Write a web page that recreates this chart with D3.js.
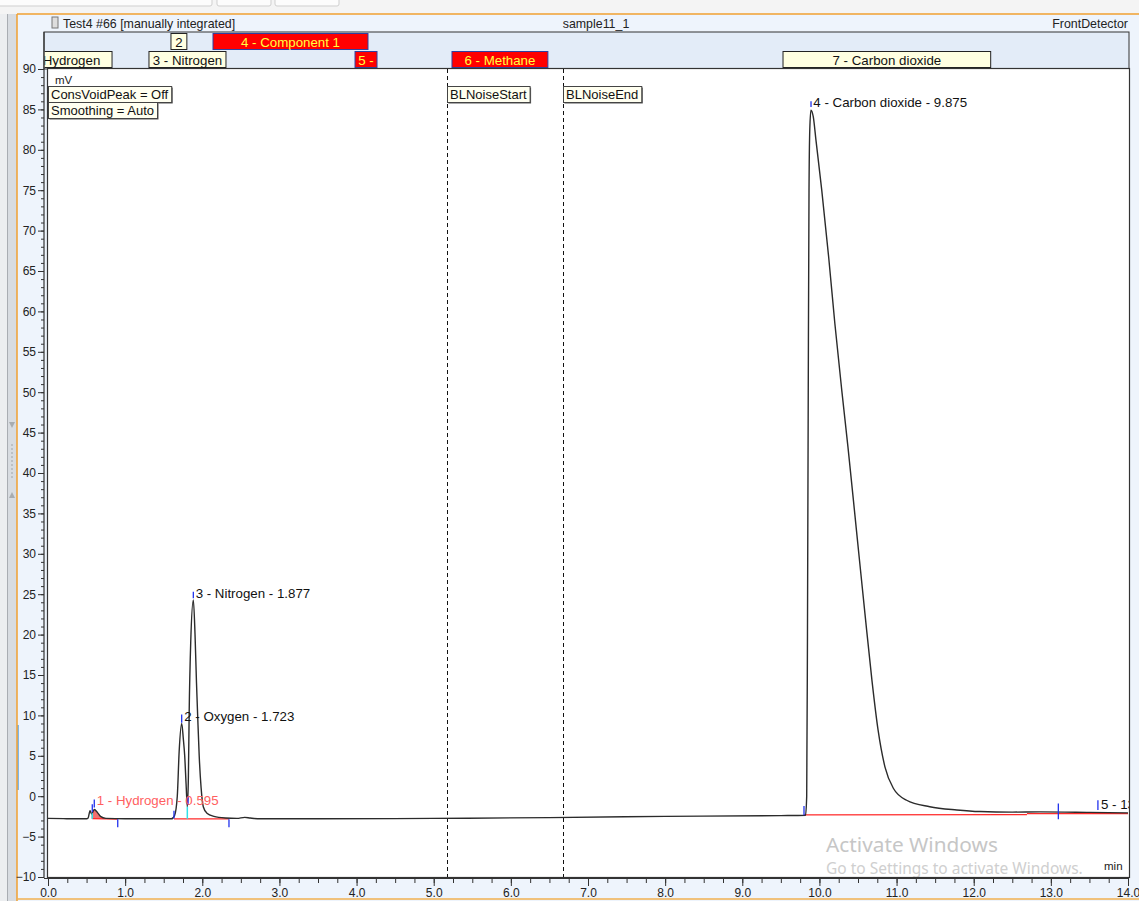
<!DOCTYPE html>
<html lang="en">
<head>
  <meta charset="utf-8">
  <title>Test4 #66 - sample11_1</title>
  <script src="https://cdn.jsdelivr.net/npm/d3@7"></script>
  <style>
    body { margin: 0; background: #fff; }
    svg { display: block; font-family: "Liberation Sans", Arial, sans-serif; }
    .axis text { font-size: 12px; fill: #222; }
    .axis line { stroke: #333; }
    .axis .domain { display: none; }
    .box text { font-size: 13.3px; }
  </style>
</head>
<body>
  <div id="chart"></div>
  <script>
    // chromatogram trace (min / mV)
    var times = [0.00, 0.20, 0.40, 0.50, 0.52, 0.545, 0.565, 0.600, 0.640, 0.680, 0.750, 1.00, 1.40, 1.60,
      1.640, 1.676, 1.700, 1.733, 1.755, 1.772, 1.790, 1.806, 1.820, 1.830, 1.850, 1.884, 1.906, 1.925,
      1.940, 1.960, 1.985, 2.013, 2.060, 2.150, 2.300, 2.450, 2.550, 2.620, 2.750, 3.50, 5.00, 6.50, 8.00,
      9.50, 9.820, 9.835, 9.845, 9.855, 9.865, 9.875, 9.890, 9.920, 9.955, 10.03, 10.12, 10.20, 10.29,
      10.37, 10.48, 10.59, 10.68, 10.76, 10.85, 10.96, 11.13, 11.43, 11.78, 12.08, 12.50, 12.86, 13.50, 14.00];
    var mv = [-2.75, -2.78, -2.8, -2.8, -2.7, -1.8, -2.2, -1.65, -2.0, -2.5, -2.75, -2.8, -2.8, -2.8,
      -2.4, 0.0, 5.5, 9.0, 7.0, 5.0, 1.5, -1.3, 2.5, 10.3, 19.0, 24.3, 20.0, 14.0,
      10.0, 5.0, 1.0, -1.3, -2.1, -2.5, -2.7, -2.75, -2.62, -2.7, -2.8, -2.8, -2.75, -2.65, -2.5,
      -2.4, -2.35, 0.0, 20.0, 50.0, 75.0, 82.5, 84.9, 84.1, 81.2, 75.0, 66.7, 58.5, 50.2,
      43.2, 32.9, 22.6, 14.4, 8.2, 3.6, 0.95, -0.5, -1.3, -1.7, -1.9, -1.97, -1.94, -2.0, -2.06];

    // axis ticks
    var yTicks = [-10, -5, 0, 5, 10, 15, 20, 25, 30, 35, 40, 45, 50, 55, 60, 65, 70, 75, 80, 85, 90];
    var xTicks = [0, 1, 2, 3, 4, 5, 6, 7, 8, 9, 10, 11, 12, 13, 14];

    // peak windows in the header band
    var winNames = ['1 - Hydrogen', '2', '3 - Nitrogen', '4 - Component 1', '5 -', '6 - Methane', '7 - Carbon dioxide'];
    var winStart = [-0.47, 1.594, 1.309, 2.139, 3.98, 5.237, 9.528];
    var winEnd = [0.83, 1.80, 2.307, 4.148, 4.265, 6.48, 12.22];
    var winRow = [2, 1, 2, 1, 2, 2, 2];
    var winRed = [false, false, false, true, true, true, false];

    // peak labels
    var peakNames = ['1 - Hydrogen - 0.595', '2 - Oxygen - 1.723', '3 - Nitrogen - 1.877', '4 - Carbon dioxide - 9.875', '5 - 13.650'];
    var peakT = [0.631, 1.766, 1.914, 9.921, 13.65];
    var peakV = [-1.1, 9.35, 24.55, 85.25, -1.6];

    // integration baselines (red)
    var baseT = [[0.574, 0.904], [1.633, 2.346], [9.80, 12.69], [12.69, 14.0]];
    var baseV = [[-2.78, -2.82], [-2.8, -2.8], [-2.3, -2.27], [-2.15, -2.15]];

    // peak start/end markers (blue)
    var markT = [0.574, 0.600, 0.904, 1.633, 1.815, 1.733, 1.884, 2.346, 9.80, 9.891, 13.097, 13.61];
    var markV0 = [-1.0, -0.4, -2.85, -1.8, -0.1, 10.1, 25.3, -2.85, -1.2, 86.0, -0.9, -0.5];
    var markV1 = [-2.0, -1.4, -3.85, -2.75, -1.1, 9.1, 24.5, -3.85, -2.35, 85.3, -2.85, -1.7];

    // drop lines (cyan)
    var dropT = [0.574, 1.806];
    var dropV = [-2.1, -1.3];

    // baseline noise events
    var eventNames = ['BLNoiseStart', 'BLNoiseEnd'];
    var eventT = [5.172, 6.676];

    var infoTexts = ['ConsVoidPeak = Off', 'Smoothing = Auto'];

    var W = 1139, H = 901;
    var plotL = 48, plotR = 1129, plotT = 69, plotB = 877;

    var x = d3.scaleLinear().domain([0, 14]).range([48, 1128]);
    var y = d3.scaleLinear().domain([-10, 90]).range([877, 69]);

    var svg = d3.select('#chart').append('svg')
      .attr('width', W)
      .attr('height', H);

    // window chrome
    svg.append('rect').attr('width', W).attr('height', 14).attr('fill', '#f4f4f4');
    [[-5, 212], [217, 271], [275, 339]].forEach(function (t) {
      svg.append('rect').attr('x', t[0]).attr('y', -4).attr('width', t[1] - t[0]).attr('height', 10)
        .attr('rx', 2).attr('fill', '#fcfcfc').attr('stroke', '#cfcfcf');
    });
    svg.append('rect').attr('x', 0).attr('y', 14).attr('width', 17).attr('height', H - 14).attr('fill', '#eceef0');
    svg.append('rect').attr('x', 7).attr('y', 14).attr('width', 10).attr('height', H - 14).attr('fill', '#d8dce1');
    svg.append('line').attr('x1', 7.5).attr('x2', 7.5).attr('y1', 14).attr('y2', H).attr('stroke', '#a9adb2');
    svg.append('path').attr('d', 'M9,422 L15,422 L12,428 Z').attr('fill', '#a8acb0');
    svg.append('path').attr('d', 'M9,498 L15,498 L12,492 Z').attr('fill', '#a8acb0');
    svg.selectAll('circle.grip').data(d3.range(9)).enter().append('circle')
      .attr('cx', 12).attr('cy', function (d) { return 445 + d * 4; }).attr('r', 0.8).attr('fill', '#9a9ea3');
    svg.append('rect').attr('x', 17).attr('y', 14).attr('width', W - 17).attr('height', H - 14).attr('fill', '#eef4fc');
    svg.append('rect').attr('x', 17).attr('y', 725).attr('width', 2).attr('height', 65).attr('fill', '#7fb6e6');
    svg.append('line').attr('x1', 17).attr('x2', 17).attr('y1', 14).attr('y2', H).attr('stroke', '#f0a030').attr('stroke-width', 1.5);
    svg.append('line').attr('x1', 17).attr('x2', W).attr('y1', 14).attr('y2', 14).attr('stroke', '#f0a030').attr('stroke-width', 1.5);
    svg.append('line').attr('x1', 17).attr('x2', W).attr('y1', 899).attr('y2', 899).attr('stroke', '#f0b050').attr('stroke-width', 1.5);

    // title row
    svg.append('rect').attr('x', 52).attr('y', 17).attr('width', 6).attr('height', 11).attr('fill', '#ddd').attr('stroke', '#777');
    svg.append('text').attr('x', 63).attr('y', 28).style('font-size', '12.4px').attr('fill', '#222')
      .text('Test4 #66 [manually integrated]');
    svg.append('text').attr('x', 596).attr('y', 28).attr('text-anchor', 'middle').style('font-size', '12.4px').attr('fill', '#222')
      .text('sample11_1');
    svg.append('text').attr('x', 1128).attr('y', 28).attr('text-anchor', 'end').style('font-size', '12.4px').attr('fill', '#222')
      .text('FrontDetector');

    // header band with peak windows
    svg.append('rect').attr('x', 44).attr('y', 32).attr('width', plotR - 44).attr('height', plotT - 32)
      .attr('fill', '#e3ecf8').attr('stroke', '#333');
    svg.append('clipPath').attr('id', 'bandClip').append('rect')
      .attr('x', 44.5).attr('y', 32).attr('width', plotR - 45).attr('height', plotT - 32);
    var band = svg.append('g').attr('clip-path', 'url(#bandClip)');
    var win = band.selectAll('g.win')
      .data(winNames)
      .enter().append('g')
      .attr('class', 'box');
    win.append('rect')
      .attr('x', function (d, i) { return x(winStart[i]); })
      .attr('y', function (d, i) { return winRow[i] === 1 ? 33.5 : 51.5; })
      .attr('width', function (d, i) { return x(winEnd[i]) - x(winStart[i]); })
      .attr('height', 16)
      .attr('fill', function (d, i) { return winRed[i] ? '#ff0000' : '#ffffe1'; })
      .attr('stroke', function (d, i) { return winRed[i] ? '#3040a0' : '#222'; });
    win.append('text')
      .attr('x', function (d, i) { return (x(winStart[i]) + x(winEnd[i])) / 2; })
      .attr('y', function (d, i) { return winRow[i] === 1 ? 46.5 : 64.5; })
      .attr('text-anchor', 'middle')
      .attr('fill', function (d, i) { return winRed[i] ? '#ffff40' : '#111'; })
      .text(function (d) { return d; });

    // plot area
    svg.append('rect').attr('x', plotL).attr('y', plotT).attr('width', plotR - plotL).attr('height', plotB - plotT)
      .attr('fill', '#fff');
    svg.append('clipPath').attr('id', 'plotClip').append('rect')
      .attr('x', plotL).attr('y', plotT).attr('width', plotR - plotL).attr('height', plotB - plotT);
    var plot = svg.append('g').attr('clip-path', 'url(#plotClip)');

    // baseline noise event lines
    plot.selectAll('line.event')
      .data(eventT)
      .enter().append('line')
      .attr('x1', function (d) { return Math.round(x(d)) + 0.5; })
      .attr('x2', function (d) { return Math.round(x(d)) + 0.5; })
      .attr('y1', plotT).attr('y2', plotB)
      .attr('stroke', '#111').attr('stroke-dasharray', '4,3');

    // info boxes
    function labelBox(g, tx, ty, txt) {
      var t = g.append('text').attr('x', tx + 3).attr('y', ty + 12.5).style('font-size', '13px').attr('fill', '#111').text(txt);
      var w = t.node().getComputedTextLength() + 6;
      g.insert('rect', 'text').attr('x', tx + 1.5).attr('y', ty + 1.5).attr('width', w).attr('height', 16).attr('fill', '#555');
      g.insert('rect', 'text').attr('x', tx + 0.5).attr('y', ty + 0.5).attr('width', w).attr('height', 16)
        .attr('fill', '#fffff0').attr('stroke', '#444');
    }
    eventNames.forEach(function (n, i) {
      labelBox(plot.append('g'), Math.round(x(eventT[i])), 86, n);
    });
    infoTexts.forEach(function (n, i) {
      labelBox(plot.append('g'), plotL, 86 + i * 16, n);
    });
    plot.append('text').attr('x', 55).attr('y', 84).style('font-size', '11.5px').attr('fill', '#222').text('mV');
    plot.append('text').attr('x', 1104).attr('y', 870).style('font-size', '11.5px').attr('fill', '#222').text('min');

    // watermark
    plot.append('text').attr('x', 826).attr('y', 852).style('font-family', '"Noto Sans", "Open Sans", sans-serif')
      .style('font-size', '20.8px').attr('fill', '#c6c6c6').text('Activate Windows');
    plot.append('text').attr('x', 826).attr('y', 874).style('font-family', '"Noto Sans", "Open Sans", sans-serif')
      .style('font-size', '15.5px').attr('fill', '#cfcfcf').text('Go to Settings to activate Windows.');

    var trace = times.map(function (t, i) { return [t, mv[i]]; });

    // filled hydrogen peak area
    var h2 = trace.filter(function (d) { return d[0] >= 0.565 && d[0] <= 0.75; });
    plot.append('path')
      .datum(h2)
      .attr('d', d3.area().curve(d3.curveMonotoneX)
        .x(function (d) { return x(d[0]); })
        .y0(y(-2.78))
        .y1(function (d) { return y(d[1]); }))
      .attr('fill', '#f07070');

    // integration baselines
    plot.selectAll('line.base')
      .data(baseT)
      .enter().append('line')
      .attr('x1', function (d) { return x(d[0]); })
      .attr('x2', function (d) { return x(d[1]); })
      .attr('y1', function (d, i) { return y(baseV[i][0]); })
      .attr('y2', function (d, i) { return y(baseV[i][1]); })
      .attr('stroke', '#ff2a2a').attr('stroke-width', 1.3);

    // chromatogram
    plot.append('path')
      .datum(trace)
      .attr('d', d3.line().curve(d3.curveMonotoneX)
        .x(function (d) { return x(d[0]); })
        .y(function (d) { return y(d[1]); }))
      .attr('fill', 'none')
      .attr('stroke', '#2b2b2b')
      .attr('stroke-width', 1.4);

    // drop lines
    plot.selectAll('line.drop')
      .data(dropT)
      .enter().append('line')
      .attr('x1', function (d) { return x(d); })
      .attr('x2', function (d) { return x(d); })
      .attr('y1', y(-2.8))
      .attr('y2', function (d, i) { return y(dropV[i]); })
      .attr('stroke', '#30e0e8').attr('stroke-width', 1.5);

    // peak markers
    plot.selectAll('line.mark')
      .data(markT)
      .enter().append('line')
      .attr('x1', function (d) { return x(d); })
      .attr('x2', function (d) { return x(d); })
      .attr('y1', function (d, i) { return y(markV0[i]); })
      .attr('y2', function (d, i) { return y(markV1[i]); })
      .attr('stroke', '#2233ee').attr('stroke-width', 1.3);

    // peak labels
    plot.selectAll('text.peak')
      .data(peakNames)
      .enter().append('text')
      .attr('class', 'peak')
      .attr('x', function (d, i) { return x(peakT[i]); })
      .attr('y', function (d, i) { return y(peakV[i]); })
      .style('font-size', '13.3px')
      .style('fill', function (d, i) { return i === 0 ? '#ff5f5f' : '#111'; })
      .text(function (d) { return d; });

    // frame and axes
    svg.append('rect').attr('x', plotL - 0.5).attr('y', plotT - 0.5).attr('width', plotR - plotL + 1).attr('height', plotB - plotT + 1)
      .attr('fill', 'none').attr('stroke', '#333').attr('stroke-width', 1.2);
    svg.append('line').attr('x1', 44).attr('x2', 44).attr('y1', 32).attr('y2', plotB + 1).attr('stroke', '#333').attr('stroke-width', 1.2);
    svg.append('line').attr('x1', 44).attr('x2', plotR).attr('y1', 878.5).attr('y2', 878.5).attr('stroke', '#333').attr('stroke-width', 1.2);

    svg.append('g').attr('class', 'axis').attr('transform', 'translate(44,0)')
      .call(d3.axisLeft(y).tickValues(d3.range(-10, 91, 1)).tickSize(3).tickFormat(''));
    svg.append('g').attr('class', 'axis').attr('transform', 'translate(44,0)')
      .call(d3.axisLeft(y).tickValues(yTicks).tickSize(6).tickPadding(2).tickFormat(d3.format('d')));

    svg.append('g').attr('class', 'axis').attr('transform', 'translate(0,879)')
      .call(d3.axisBottom(x).tickValues(d3.range(0, 14.01, 0.25)).tickSize(4).tickFormat(''));
    svg.append('g').attr('class', 'axis').attr('transform', 'translate(0,879)')
      .call(d3.axisBottom(x).tickValues(xTicks).tickSize(7).tickPadding(2).tickFormat(d3.format('.1f')));
  </script>
</body>
</html>
